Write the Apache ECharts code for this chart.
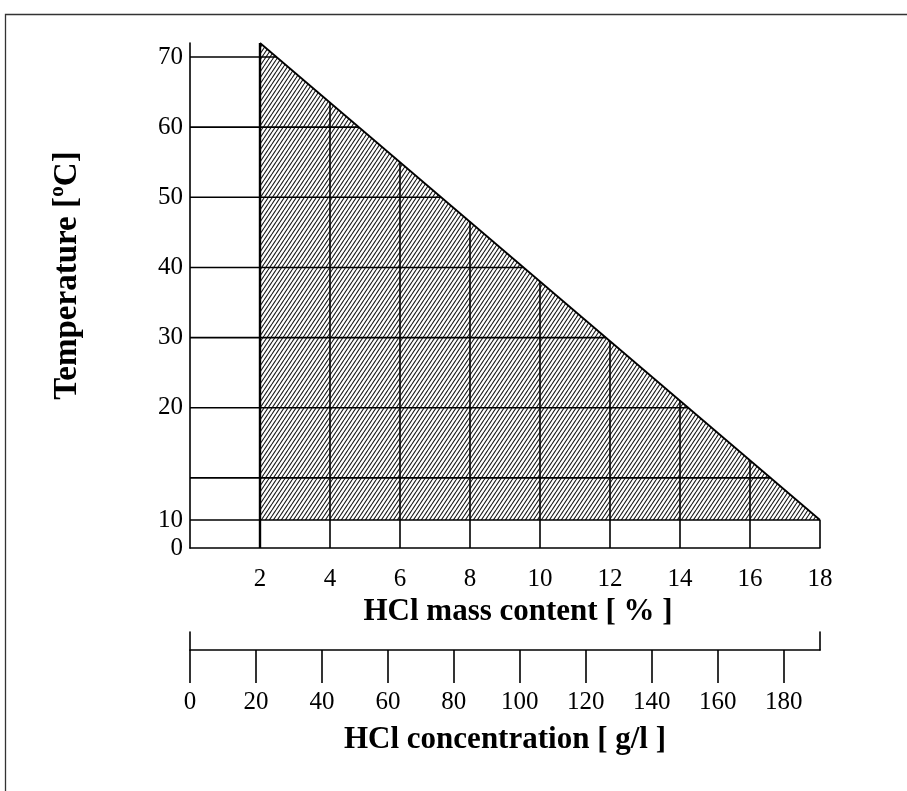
<!DOCTYPE html>
<html><head><meta charset="utf-8">
<script src="https://cdn.jsdelivr.net/npm/echarts@6/dist/echarts.min.js"></script>
<style>html,body{margin:0;padding:0;background:#fff}#c{width:907px;height:791px}</style>
</head><body><div id="c"></div><script>
// ---- data ----
const massTicks = [2, 4, 6, 8, 10, 12, 14, 16, 18];          // HCl mass content [%] labels
const concTicks = [0, 20, 40, 60, 80, 100, 120, 140, 160, 180]; // HCl concentration [g/l] labels
const concMax = 191;                                          // g/l at 18 %
const yLabelPos = [0, 4, 20, 30, 40, 50, 60, 70];             // axis positions of temperature labels
const yLabelText = ['0', '10', '20', '30', '40', '50', '60', '70'];
const gridRows = [4, 10, 20, 30, 40, 50, 60, 70];             // horizontal rules (axis positions)
const gridCols = [2, 4, 6, 8, 10, 12, 14, 16, 18];            // vertical rules (% HCl)
const limitMass = [2, 18];                                    // boundary of hatched region
const limitTemp = [72, 4];

const FONT = "'Liberation Serif', 'Times New Roman', serif";

function limitAt(x) {
  return limitTemp[0] + (x - limitMass[0]) * (limitTemp[1] - limitTemp[0]) / (limitMass[1] - limitMass[0]);
}
function massAt(t) {
  return limitMass[0] + (t - limitTemp[0]) * (limitMass[1] - limitMass[0]) / (limitTemp[1] - limitTemp[0]);
}

function makeHatch() {
  const w = 4, h = 6;
  const c = document.createElement('canvas');
  c.width = w; c.height = h;
  const g = c.getContext('2d');
  g.fillStyle = '#fff'; g.fillRect(0, 0, w, h);
  g.strokeStyle = '#1a1a1a'; g.lineWidth = 1.1;
  g.beginPath();
  for (let i = -1; i <= 1; i++) {
    g.moveTo(i * w, h); g.lineTo(i * w + w, 0);
  }
  g.stroke();
  return c;
}

const series = [];
// hatched region
series.push({
  type: 'custom', xAxisIndex: 0, yAxisIndex: 0, silent: true, z: 1,
  data: [[0]],
  renderItem: function (params, api) {
    const pts = [
      api.coord([limitMass[0], limitTemp[0]]),
      api.coord([limitMass[1], limitTemp[1]]),
      api.coord([limitMass[0], limitTemp[1]])
    ];
    return { type: 'polygon', shape: { points: pts },
      style: { fill: { image: makeHatch(), repeat: 'repeat' }, stroke: null } };
  }
});
// horizontal rules
gridRows.forEach(function (t) {
  series.push({ type: 'line', xAxisIndex: 0, yAxisIndex: 0, silent: true, z: 3,
    symbol: 'none', animation: false,
    lineStyle: { color: '#000', width: 1.6 },
    data: [[0, t], [Math.min(limitMass[1], massAt(t)), t]] });
});
// vertical rules
gridCols.forEach(function (x) {
  series.push({ type: 'line', xAxisIndex: 0, yAxisIndex: 0, silent: true, z: 3,
    symbol: 'none', animation: false,
    lineStyle: { color: '#000', width: x === limitMass[0] ? 2.4 : 1.6 },
    data: [[x, 0], [x, limitAt(x)]] });
});
// boundary
series.push({ type: 'line', xAxisIndex: 0, yAxisIndex: 0, silent: true, z: 4,
  symbol: 'none', animation: false,
  lineStyle: { color: '#000', width: 1.8 },
  data: [[limitMass[0], limitTemp[0]], [limitMass[1], limitTemp[1]]] });

const tickFont = { fontFamily: FONT, fontSize: 25, color: '#000' };
const nameFont = { fontFamily: FONT, fontSize: 31, fontWeight: 'bold', color: '#000' };

const option = {
  animation: false,
  backgroundColor: '#fff',
  graphic: [{ type: 'rect', silent: true, shape: { x: 5.5, y: 14.5, width: 1000, height: 1000 },
    style: { fill: 'none', stroke: '#333', lineWidth: 1.3 } }],
  grid: [
    { left: 190, right: 87, top: 43, height: 505 },
    { left: 190, right: 87, top: 632, height: 18 }
  ],
  xAxis: [
    { type: 'value', gridIndex: 0, min: 0, max: 18,
      axisLine: { show: true, onZero: false, lineStyle: { color: '#000', width: 1.6 } },
      axisTick: { show: false }, splitLine: { show: false },
      axisLabel: Object.assign({ customValues: massTicks, margin: 19 }, tickFont),
      name: 'HCl mass content [ % ]', nameLocation: 'middle', nameGap: 45,
      nameTextStyle: Object.assign({ padding: [0, 0, 0, 26] }, nameFont) },
    { type: 'value', gridIndex: 1, min: 0, max: concMax, position: 'bottom',
      axisLine: { show: true, onZero: false, lineStyle: { color: '#000', width: 1.6 } },
      axisTick: { show: true, length: 33, customValues: concTicks, lineStyle: { color: '#000', width: 1.6 } },
      splitLine: { show: false },
      axisLabel: Object.assign({ customValues: concTicks, margin: 40 }, tickFont),
      name: 'HCl concentration [ g/l ]', nameLocation: 'middle', nameGap: 74, nameTextStyle: nameFont }
  ],
  yAxis: [
    { type: 'value', gridIndex: 0, min: 0, max: 72,
      axisLine: { show: true, onZero: false, lineStyle: { color: '#000', width: 1.6 } },
      axisTick: { show: false }, splitLine: { show: false },
      axisLabel: Object.assign({ customValues: yLabelPos, margin: 7,
        formatter: function (v) { const i = yLabelPos.indexOf(v); return i >= 0 ? yLabelText[i] : ''; } }, tickFont),
      name: 'Temperature [\u00BAC]', nameLocation: 'middle', nameRotate: 90, nameGap: 106,
      nameTextStyle: Object.assign({}, nameFont, { fontSize: 33, padding: [0, 0, 0, 40] }) },
    { type: 'value', gridIndex: 1, min: 0, max: 1, position: 'left',
      axisLine: { show: true, onZero: false, lineStyle: { color: '#000', width: 1.6 } },
      axisTick: { show: false }, axisLabel: { show: false }, splitLine: { show: false } },
    { type: 'value', gridIndex: 1, min: 0, max: 1, position: 'right',
      axisLine: { show: true, onZero: false, lineStyle: { color: '#000', width: 1.6 } },
      axisTick: { show: false }, axisLabel: { show: false }, splitLine: { show: false } }
  ],
  series: series
};

const chart = echarts.init(document.getElementById('c'), null, { renderer: 'canvas' });
chart.setOption(option);
</script></body></html>
